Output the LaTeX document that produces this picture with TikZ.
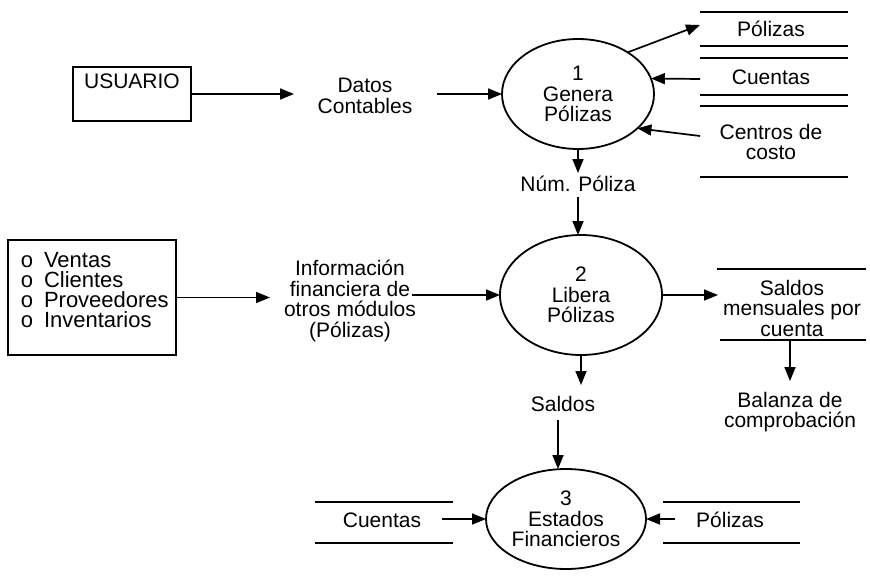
\documentclass[tikz,border=0pt]{standalone}
\usepackage{fontspec}
\setmainfont{Liberation Sans}
\usetikzlibrary{shapes.geometric,arrows.meta}
\begin{document}
\begin{tikzpicture}[x=1pt,y=-1pt,
  every node/.style={font=\fontsize{21}{20.5}\selectfont, inner sep=0pt, outer sep=0pt},
  flow/.style={draw, line width=1.7pt, -{Triangle[length=14pt,width=11pt]}},
  proc/.style={ellipse, draw, line width=1.8pt, align=center},
  lbl/.style={align=center},
  storeline/.style={line width=1.7pt},
  extbox/.style={draw, line width=1.7pt},
  listitem/.style={font=\fontsize{22}{20}\selectfont}]
\useasboundingbox (0,0) rectangle (870,581);

% ---- processes ----
\node[proc, minimum width=152pt, minimum height=110pt] (e1) at (578,94) {1\\Genera\\Pólizas};
\node[proc, minimum width=162pt, minimum height=120pt] (e2) at (581,295) {2\\Libera\\Pólizas};
\node[proc, minimum width=160pt, minimum height=100pt] (e3) at (566,519) {3\\Estados\\Financieros};

% ---- external entities ----
\node[extbox, minimum width=118pt, minimum height=54pt] (usr) at (132,94) {};
\node (usrtxt) at (132,81) {USUARIO};

\node[extbox, minimum width=168pt, minimum height=115pt] (mods) at (92,297.5) {};
\foreach \t [count=\i] in {Ventas,Clientes,Proveedores,Inventarios}{
  \node[listitem] (bul\i) at (27,242+20*\i) {o};
  \node[listitem, anchor=west] (mod\i) at (44,240+20*\i) {\t};
}

% ---- flow labels ----
\node[lbl] (dc) at (365,96) {Datos\\Contables};
\node (num) at (578,184) {Núm. Póliza};
\node[lbl] (info) at (350,301) {Información\\financiera de\\otros módulos\\(Pólizas)};
\node (sal) at (563,404) {Saldos};
\node[lbl] (bal) at (790,412) {Balanza de\\comprobación};

% ---- data stores ----
\draw[storeline] (700,12) -- (848,12) (700,46) -- (848,46);
\node (stpol) at (771,29) {Pólizas};
\draw[storeline] (700,58) -- (848,58) (700,95) -- (848,95);
\node (stcta) at (771,77) {Cuentas};
\draw[storeline] (700,106) -- (848,106) (700,177) -- (848,177);
\node[lbl] (stcc) at (771,142) {Centros de\\costo};

\draw[storeline] (717,269) -- (866,269) (720,340) -- (866,340);
\node[lbl] (stsal) at (792,308) {Saldos\\mensuales por\\cuenta};

\draw[storeline] (315,502) -- (453,502) (315,543) -- (453,543);
\node (stcta2) at (382,520) {Cuentas};
\draw[storeline] (663,502) -- (800,502) (663,543) -- (800,543);
\node (stpol2) at (730,520) {Pólizas};

% ---- connector ends ----
\coordinate (dcL) at (294,94);
\coordinate (dcR) at (437,94);
\coordinate (polIn) at (700,25);
\coordinate (ctaOut) at (700,79);
\coordinate (ccOut) at (700,136);
\coordinate (numTop) at (578,173);
\coordinate (numBot) at (578,197);
\coordinate (infoL) at (270,297.5);
\coordinate (infoR) at (412,295);
\coordinate (salIn) at (718,295);
\coordinate (salOut) at (790,340);
\coordinate (balTop) at (790,381);
\coordinate (salTop) at (581,385);
\coordinate (salBot) at (558,420);
\coordinate (cta2Out) at (442,519);
\coordinate (pol2Out) at (675,519);

% ---- flows ----
\draw[flow] (usr.east) -- (dcL);
\draw[flow] (dcR) -- (e1.west);
\draw[flow] (e1.40) -- (polIn);
\draw[flow] (ctaOut) -- (e1.12);
\draw[flow] (ccOut) -- (e1.-30);
\draw[flow] (e1.south) -- (numTop);
\draw[flow] (numBot) -- (e2.north -| numBot);
\draw[flow] (mods.east) -- (infoL);
\draw[flow] (infoR) -- (e2.west);
\draw[flow] (e2.east) -- (salIn);
\draw[flow] (salOut) -- (balTop);
\draw[flow] (e2.south) -- (salTop);
\draw[flow] (salBot) -- (e3.north -| salBot);
\draw[flow] (cta2Out) -- (e3.west);
\draw[flow] (pol2Out) -- (e3.east);
\end{tikzpicture}
\end{document}
